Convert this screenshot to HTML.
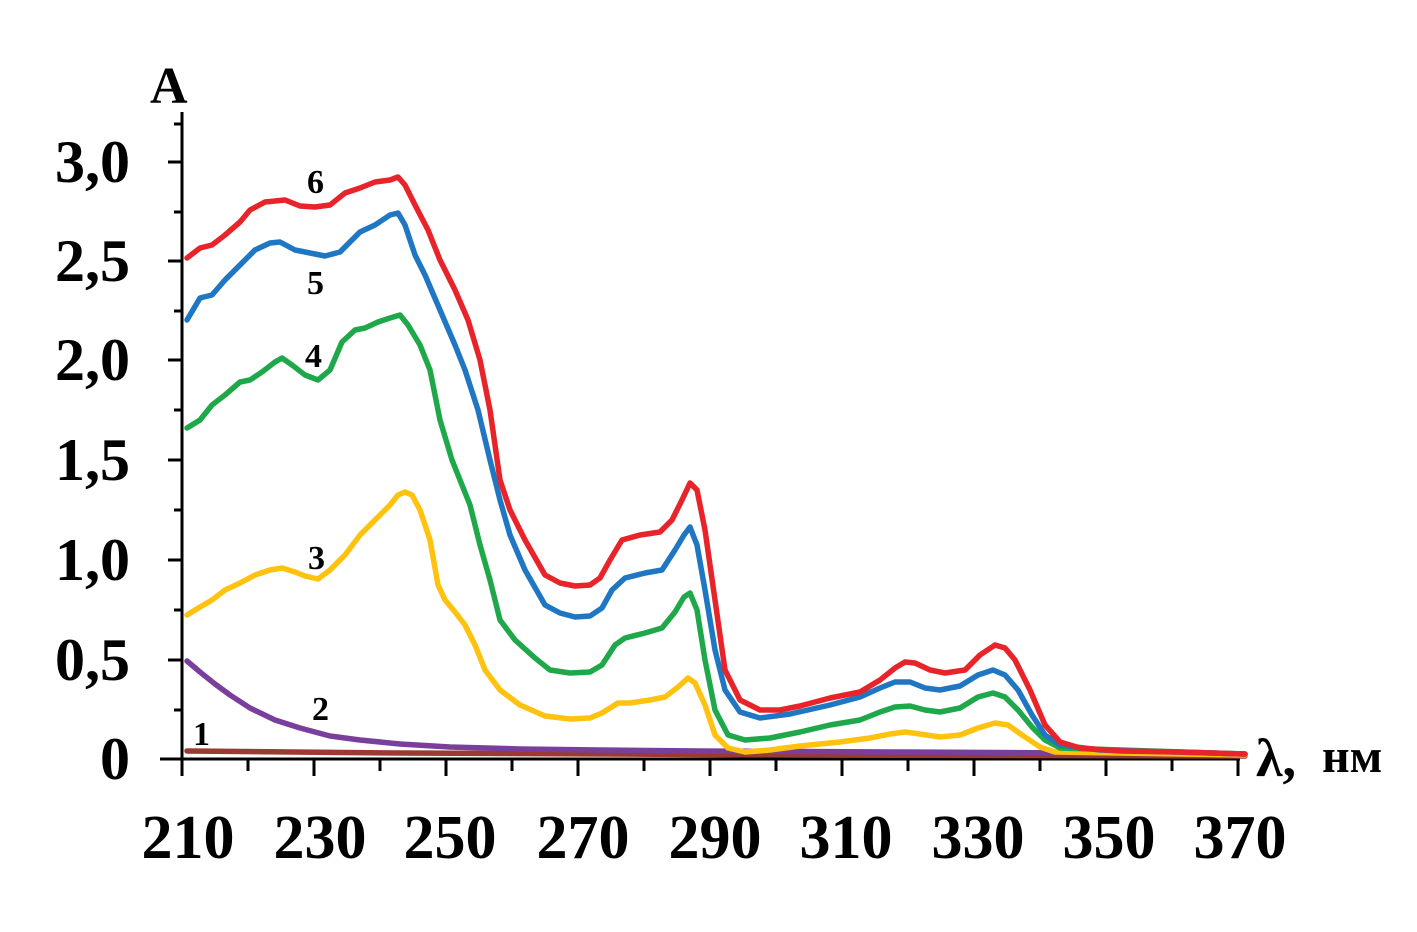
<!DOCTYPE html>
<html><head><meta charset="utf-8"><style>
html,body{margin:0;padding:0;background:#fff;}
svg{display:block;}
text{font-family:"Liberation Serif",serif;font-weight:bold;fill:#000;}
</style></head><body>
<svg width="1417" height="932" viewBox="0 0 1417 932" xmlns="http://www.w3.org/2000/svg">
<g stroke="#000" stroke-width="3" fill="none">
<line x1="182" y1="112" x2="182" y2="760"/>
<line x1="160" y1="759" x2="1240" y2="759"/>
<line x1="168" y1="162" x2="182" y2="162"/><line x1="174" y1="212" x2="182" y2="212"/>
<line x1="168" y1="261" x2="182" y2="261"/><line x1="174" y1="311" x2="182" y2="311"/>
<line x1="168" y1="360" x2="182" y2="360"/><line x1="174" y1="410" x2="182" y2="410"/>
<line x1="168" y1="460" x2="182" y2="460"/><line x1="174" y1="510" x2="182" y2="510"/>
<line x1="168" y1="560" x2="182" y2="560"/><line x1="174" y1="610" x2="182" y2="610"/>
<line x1="168" y1="660" x2="182" y2="660"/><line x1="174" y1="710" x2="182" y2="710"/>
<line x1="174" y1="124" x2="182" y2="124"/>
<line x1="182" y1="759" x2="182" y2="776"/><line x1="248" y1="759" x2="248" y2="771"/>
<line x1="314" y1="759" x2="314" y2="776"/><line x1="380" y1="759" x2="380" y2="771"/>
<line x1="446" y1="759" x2="446" y2="776"/><line x1="512" y1="759" x2="512" y2="771"/>
<line x1="578" y1="759" x2="578" y2="776"/><line x1="644" y1="759" x2="644" y2="771"/>
<line x1="710" y1="759" x2="710" y2="776"/><line x1="776" y1="759" x2="776" y2="771"/>
<line x1="842" y1="759" x2="842" y2="776"/><line x1="908" y1="759" x2="908" y2="771"/>
<line x1="974" y1="759" x2="974" y2="776"/><line x1="1040" y1="759" x2="1040" y2="771"/>
<line x1="1106" y1="759" x2="1106" y2="776"/><line x1="1172" y1="759" x2="1172" y2="771"/>
<line x1="1238" y1="759" x2="1238" y2="776"/>
</g>
<g fill="none" stroke-width="5.5" stroke-linejoin="round" stroke-linecap="round">
<polyline stroke="#9b3a32" points="187,751 400,753 800,755 1245,756"/>
<polyline stroke="#7a3f9d" points="187,661 200,672 215,684 230,695 250,708 275,720 300,728 330,736 360,740 400,744 450,747 520,749 600,750 700,751 900,752 1245,754"/>
<polyline stroke="#ffc20e" points="187,615 200,607 212,600 225,590 240,583 255,575 270,570 282,568 295,572 305,576 318,579 330,570 345,555 360,535 375,520 390,505 398,495 405,492 412,495 420,510 430,540 438,585 445,600 455,612 465,625 475,645 485,670 500,690 520,705 545,716 570,719 590,718 602,713 618,703 630,703 650,700 665,697 678,687 688,678 695,683 705,705 715,735 728,748 745,752 770,750 800,746 840,742 870,738 890,734 905,732 920,734 940,737 960,735 978,728 995,723 1008,725 1022,735 1040,747 1055,752 1245,755"/>
<polyline stroke="#1fa84a" points="187,428 200,420 212,405 225,395 240,382 250,380 262,372 275,362 282,358 292,365 305,375 318,380 330,370 342,342 355,330 365,328 378,322 390,318 400,315 408,325 420,345 430,370 440,420 452,460 460,480 470,505 480,545 490,580 500,620 515,640 535,658 550,670 570,673 590,672 602,665 615,645 625,638 645,633 662,628 675,612 684,597 690,593 697,610 705,660 715,710 728,735 745,740 770,738 800,732 830,725 860,720 880,712 895,707 910,706 925,710 940,712 960,708 978,697 993,693 1005,697 1018,710 1032,727 1045,740 1060,748 1245,754"/>
<polyline stroke="#1f77c4" points="187,320 200,298 212,295 225,280 240,265 255,250 270,243 280,242 295,250 310,253 325,256 340,252 350,242 360,232 375,225 390,215 398,213 405,225 415,255 425,275 440,310 455,345 465,370 478,410 490,460 500,500 510,535 525,570 545,605 560,613 575,617 590,616 602,608 612,590 625,578 645,573 662,570 675,550 684,535 690,527 697,545 705,590 715,650 725,690 740,712 760,718 790,714 830,705 860,697 880,688 895,682 910,682 925,688 940,690 960,686 978,675 993,670 1005,675 1018,690 1032,715 1045,735 1060,745 1100,750 1245,754"/>
<polyline stroke="#e8232a" points="187,258 200,248 212,245 225,235 240,222 250,210 265,202 285,200 300,206 315,207 330,205 345,193 360,188 375,182 390,180 398,177 405,185 415,205 428,230 440,260 455,290 468,320 480,360 490,410 500,480 510,510 525,540 545,575 560,583 575,586 590,585 600,578 610,560 622,540 640,535 660,532 672,520 682,500 690,483 697,490 705,530 715,600 725,670 740,700 760,710 780,710 800,706 830,698 860,692 880,680 895,668 905,662 915,663 930,670 945,673 965,670 980,655 995,645 1005,648 1015,660 1030,690 1045,725 1060,742 1080,748 1120,751 1180,752 1245,754"/>
</g>
<g font-size="34">
<text x="307" y="193">6</text><text x="307" y="294">5</text><text x="305" y="367">4</text>
<text x="308" y="569">3</text><text x="312" y="720">2</text><text x="193" y="745">1</text>
</g>
<g font-size="60" text-anchor="end">
<text x="130" y="182">3,0</text><text x="130" y="281">2,5</text><text x="130" y="380">2,0</text>
<text x="130" y="480">1,5</text><text x="130" y="580">1,0</text><text x="130" y="680">0,5</text>
<text x="130" y="779">0</text>
</g>
<text x="150" y="103" font-size="52">A</text>
<g font-size="62" text-anchor="middle">
<text x="188" y="858">210</text><text x="320" y="858">230</text><text x="450" y="858">250</text>
<text x="583" y="858">270</text><text x="715" y="858">290</text><text x="846" y="858">310</text>
<text x="978" y="858">330</text><text x="1109" y="858">350</text><text x="1240" y="858">370</text>
</g>
<text x="1256" y="776" font-size="54">λ,</text>
<text x="1322" y="772" font-size="48">нм</text>
</svg>
</body></html>
